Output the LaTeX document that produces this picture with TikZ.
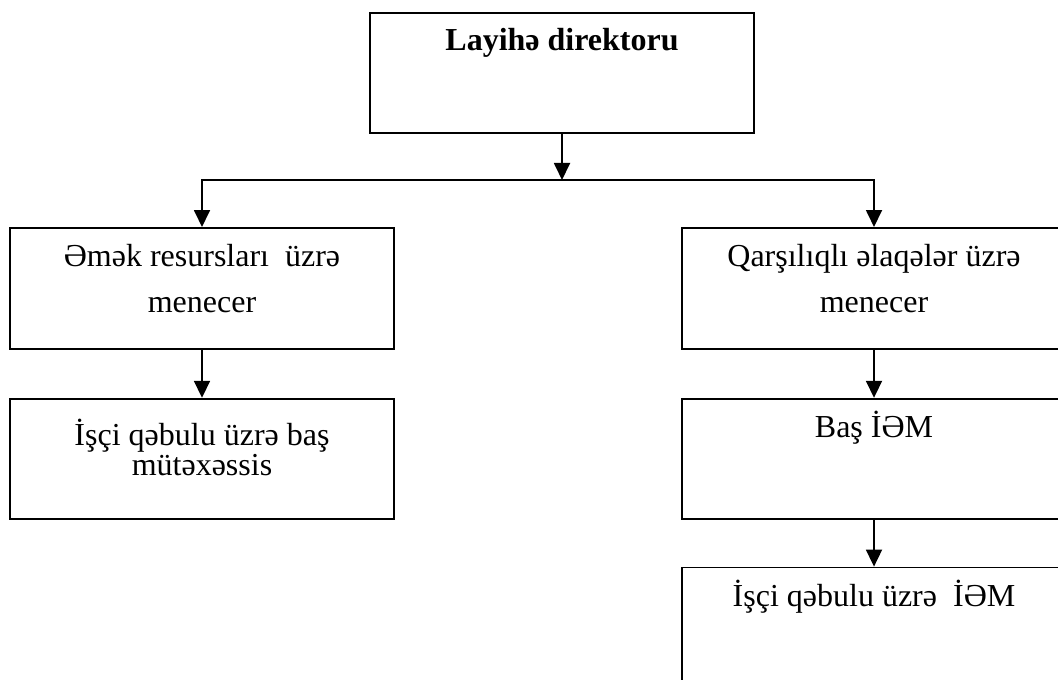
\documentclass[tikz,border=0pt]{standalone}
\usepackage{fontspec}
\setmainfont{Liberation Serif}
\usetikzlibrary{arrows.meta,positioning}

\begin{document}
\begin{tikzpicture}[x=0.5pt,y=-0.5pt,
        >={Triangle[width=8pt,length=8.5pt]},line width=0.9pt,
        box/.style={draw,rectangle,minimum width=192pt,minimum height=60pt,
                    anchor=north,inner sep=0pt},
        txt/.style={anchor=base,inner sep=0pt,align=center,
                    font=\fontsize{16}{23}\selectfont},
        node distance=24pt]

  \useasboundingbox (0,0) rectangle (1058,679);
  \clip (0,0) rectangle (1058,679);

  \node[box] (dir) at (562,12) {};
  \node[box,minimum height=60.5pt] (lmgr) at (202,227) {};
  \node[box] (lspec) [below=of lmgr] {};
  \node[box,minimum height=60.5pt] (rmgr) at (874,227) {};
  \node[box] (rbas) [below=of rmgr] {};
  \node[box,minimum height=80pt] (rhr) [below=23.5pt of rbas] {};

  % base of a two-line node is the baseline of its last line
  \node[txt,font=\bfseries\fontsize{16}{23}\selectfont] (dirtxt) at ([yshift=-19.5pt]dir.north) {Layihə direktoru};
  \node[txt] (lmgrtxt) at ([yshift=-42.5pt]lmgr.north) {Əmək resursları~~üzrə\\menecer};
  \node[txt,font=\fontsize{16}{15}\selectfont] (lspectxt) at ([yshift=-39pt]lspec.north) {İşçi qəbulu üzrə baş\\mütəxəssis};
  \node[txt] (rmgrtxt) at ([yshift=-42.5pt]rmgr.north) {Qarşılıqlı əlaqələr üzrə\\menecer};
  \node[txt] (rbastxt) at ([yshift=-20pt]rbas.north) {Baş İƏM};
  \node[txt] (rhrtxt) at ([yshift=-20pt]rhr.north) {İşçi qəbulu üzrə~~İƏM};

  \coordinate (split) at (562,180);
  \draw[->] (dir) -- (split);
  \draw[->] (split) -| (lmgr);
  \draw[->] (split) -| (rmgr);
  \draw[->] (lmgr) -- (lspec);
  \draw[->] (rmgr) -- (rbas);
  \draw[->] (rbas) -- (rhr);

\end{tikzpicture}
\end{document}
